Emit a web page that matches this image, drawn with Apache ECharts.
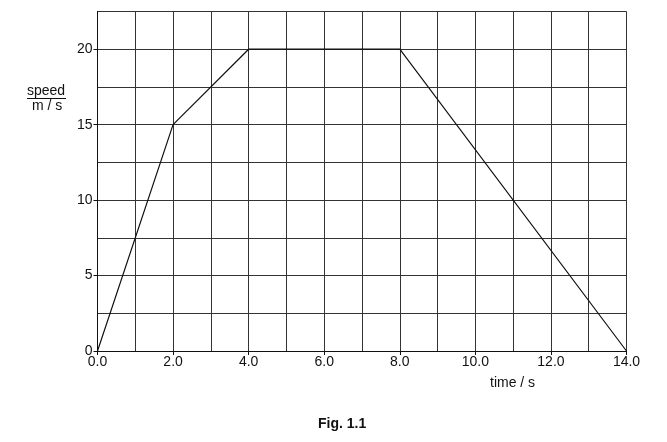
<!DOCTYPE html>
<html><head><meta charset="utf-8">
<script src="https://cdn.jsdelivr.net/npm/echarts@6/dist/echarts.min.js"></script>
<style>html,body{margin:0;padding:0;background:#fff}#c{width:667px;height:442px}</style>
</head><body><div id="c"></div>
<script>
const timeValues = [0, 2, 4, 8, 14];
const speedValues = [0, 15, 20, 20, 0];
const xTickLabels = [0, 2, 4, 6, 8, 10, 12, 14];
const yTickLabels = [0, 5, 10, 15, 20];

const chart = echarts.init(document.getElementById('c'), null, {renderer: 'canvas'});
const font = 'Liberation Sans, Arial, sans-serif';
const gridLine = {show: true, lineStyle: {color: '#333', width: 1}};
chart.setOption({
  animation: false,
  grid: {left: 97.5, right: 40.5, top: 11.5, bottom: 91, containLabel: false},
  xAxis: [{
    type: 'value', min: 0, max: 14, interval: 1,
    axisLine: {show: true, onZero: false, lineStyle: {color: '#111', width: 1}},
    axisTick: {show: true, length: 4, customValues: xTickLabels, lineStyle: {color: '#111'}},
    axisLabel: {customValues: xTickLabels, formatter: v => v.toFixed(1), color: '#111', fontSize: 14, fontFamily: font, margin: 4},
    splitLine: {show: false}
  }, {
    type: 'value', min: 0, max: 14, interval: 1, position: 'bottom',
    axisLine: {show: false}, axisTick: {show: false}, axisLabel: {show: false},
    splitLine: gridLine
  }],
  yAxis: [{
    type: 'value', min: 0, max: 22.5, interval: 2.5,
    axisLine: {show: true, onZero: false, lineStyle: {color: '#111', width: 1}},
    axisTick: {show: true, length: 4, customValues: yTickLabels, lineStyle: {color: '#111'}},
    axisLabel: {customValues: yTickLabels, formatter: v => String(v), color: '#111', fontSize: 14, fontFamily: font, margin: 5},
    splitLine: {show: false}
  }, {
    type: 'value', min: 0, max: 22.5, interval: 2.5, position: 'left',
    axisLine: {show: false}, axisTick: {show: false}, axisLabel: {show: false},
    splitLine: gridLine
  }],
  series: [{
    type: 'line',
    data: timeValues.map((t, i) => [t, speedValues[i]]),
    showSymbol: false, symbol: 'none',
    lineStyle: {color: '#111', width: 1.2},
    z: 5
  }],
  graphic: [
    {type: 'text', left: 27, top: 84, style: {text: 'speed', font: '14px ' + font, fill: '#111'}},
    {type: 'line', shape: {x1: 27, y1: 98.5, x2: 66, y2: 98.5}, style: {stroke: '#111', lineWidth: 1}},
    {type: 'text', left: 32, top: 99, style: {text: 'm / s', font: '14px ' + font, fill: '#111'}},
    {type: 'text', left: 490, top: 376, style: {text: 'time / s', font: '14px ' + font, fill: '#111'}},
    {type: 'text', left: 318, top: 417, style: {text: 'Fig. 1.1', font: 'bold 14px ' + font, fill: '#111'}}
  ]
});
</script></body></html>
